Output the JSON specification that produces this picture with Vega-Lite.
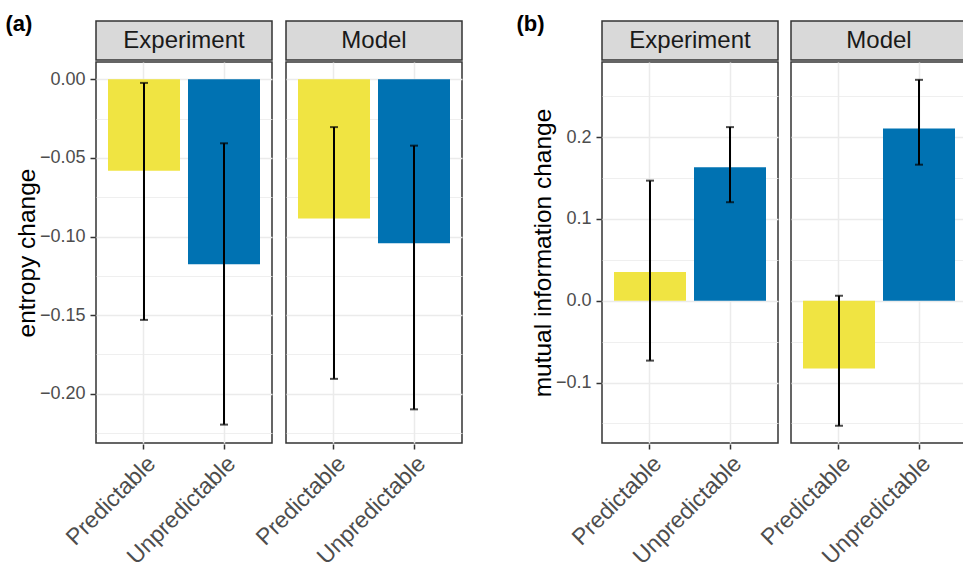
{
  "$schema": "https://vega.github.io/schema/vega-lite/v6.json",
  "background": "white",
  "padding": {"left": 5, "top": 13, "right": 0, "bottom": 0},
  "config": {
    "font": "Liberation Sans",
    "view": {"stroke": "#333333", "strokeWidth": 1.5},
    "axis": {"domain": false, "tickColor": "#333333", "tickSize": 5, "tickWidth": 1.5, "labelColor": "#4D4D4D", "titleColor": "#000000", "titleFontWeight": "normal", "gridColor": "#EBEBEB"},
    "title": {"fontSize": 22, "fontWeight": "bold", "color": "#000000", "anchor": "start", "offset": -16}
  },
  "datasets": {
    "d": [
      {"panel": "a", "source": "Experiment", "condition": "Predictable", "value": -0.0582, "lo": -0.153, "hi": -0.0023},
      {"panel": "a", "source": "Experiment", "condition": "Unpredictable", "value": -0.1177, "lo": -0.2196, "hi": -0.0407},
      {"panel": "a", "source": "Model", "condition": "Predictable", "value": -0.0886, "lo": -0.1905, "hi": -0.0304},
      {"panel": "a", "source": "Model", "condition": "Unpredictable", "value": -0.1042, "lo": -0.2099, "hi": -0.0422},
      {"panel": "b", "source": "Experiment", "condition": "Predictable", "value": 0.035, "lo": -0.0732, "hi": 0.1468},
      {"panel": "b", "source": "Experiment", "condition": "Unpredictable", "value": 0.163, "lo": 0.1204, "hi": 0.2122},
      {"panel": "b", "source": "Model", "condition": "Predictable", "value": -0.0829, "lo": -0.1528, "hi": 0.0061},
      {"panel": "b", "source": "Model", "condition": "Unpredictable", "value": 0.2106, "lo": 0.1663, "hi": 0.27}
    ]
  },
  "spacing": 53,
  "hconcat": [
    {
      "title": {"text": "(a)", "dx": -9},
      "spacing": 0,
      "vconcat": [
        {
          "data": {"name": "d"},
          "transform": [{"filter": "datum.panel == 'a' && datum.condition == 'Predictable'"}],
          "facet": {"column": {"field": "source", "type": "nominal", "header": {"title": null, "labels": false}}},
          "spacing": 12,
          "spec": {
            "width": 176, "height": 39,
            "view": {"fill": "#D9D9D9", "stroke": "#333333", "strokeWidth": 1.5},
            "mark": {"type": "text", "fontSize": 24, "color": "#1A1A1A", "baseline": "middle"},
            "encoding": {"text": {"field": "source", "type": "nominal"}}
          }
        },
        {
          "data": {"name": "d"},
          "transform": [{"filter": "datum.panel == 'a'"}],
          "facet": {"column": {"field": "source", "type": "nominal", "header": {"title": null, "labels": false}}},
          "spacing": 12,
          "spec": {
            "width": 176, "height": 381,
            "encoding": {
              "x": {"field": "condition", "type": "nominal", "title": null,
                "scale": {"paddingInner": 0.1, "paddingOuter": 0.15},
                "axis": {"labelAngle": -45, "labelFontSize": 23, "grid": true, "gridWidth": 1.5, "bandPosition": 0.5, "labelPadding": 3}}
            },
            "layer": [
              {
                "mark": {"type": "bar"},
                "encoding": {
                  "y": {"field": "value", "type": "quantitative", "title": "entropy change",
                    "scale": {"domain": [-0.2313, 0.011], "nice": false, "zero": false},
                    "axis": {
                      "values": [-0.225, -0.2, -0.175, -0.15, -0.125, -0.1, -0.075, -0.05, -0.025, 0],
                      "format": ".2f",
                      "labelExpr": "abs(datum.value/0.05 - round(datum.value/0.05)) < 0.001 ? datum.label : ''",
                      "labelFontSize": 18, "labelPadding": 5, "titleFontSize": 24.5, "titlePadding": 0,
                      "tickOpacity": {"condition": {"test": "abs(datum.value/0.05 - round(datum.value/0.05)) < 0.001", "value": 1}, "value": 0},
                      "gridWidth": {"condition": {"test": "abs(datum.value/0.05 - round(datum.value/0.05)) < 0.001", "value": 1.5}, "value": 0.8}
                    }},
                  "color": {"field": "condition", "type": "nominal", "legend": null,
                    "scale": {"domain": ["Predictable", "Unpredictable"], "range": ["#F0E442", "#0072B2"]}}
                }
              },
              {
                "mark": {"type": "rule", "color": "black", "strokeWidth": 2},
                "encoding": {"y": {"field": "lo", "type": "quantitative"}, "y2": {"field": "hi"}}
              },
              {
                "mark": {"type": "tick", "color": "black", "size": 8, "thickness": 2},
                "encoding": {"y": {"field": "lo", "type": "quantitative"}}
              },
              {
                "mark": {"type": "tick", "color": "black", "size": 8, "thickness": 2},
                "encoding": {"y": {"field": "hi", "type": "quantitative"}}
              }
            ]
          }
        }
      ]
    },
    {
      "title": {"text": "(b)", "dx": -14},
      "spacing": 0,
      "vconcat": [
        {
          "data": {"name": "d"},
          "transform": [{"filter": "datum.panel == 'b' && datum.condition == 'Predictable'"}],
          "facet": {"column": {"field": "source", "type": "nominal", "header": {"title": null, "labels": false}}},
          "spacing": 11,
          "spec": {
            "width": 176, "height": 39,
            "view": {"fill": "#D9D9D9", "stroke": "#333333", "strokeWidth": 1.5},
            "mark": {"type": "text", "fontSize": 24, "color": "#1A1A1A", "baseline": "middle"},
            "encoding": {"text": {"field": "source", "type": "nominal"}}
          }
        },
        {
          "data": {"name": "d"},
          "transform": [{"filter": "datum.panel == 'b'"}],
          "facet": {"column": {"field": "source", "type": "nominal", "header": {"title": null, "labels": false}}},
          "spacing": 11,
          "spec": {
            "width": 176, "height": 381,
            "encoding": {
              "x": {"field": "condition", "type": "nominal", "title": null,
                "scale": {"paddingInner": 0.1, "paddingOuter": 0.15},
                "axis": {"labelAngle": -45, "labelFontSize": 23, "grid": true, "gridWidth": 1.5, "bandPosition": 0.5, "labelPadding": 3}}
            },
            "layer": [
              {
                "mark": {"type": "bar"},
                "encoding": {
                  "y": {"field": "value", "type": "quantitative", "title": "mutual information change",
                    "scale": {"domain": [-0.1739, 0.2918], "nice": false, "zero": false},
                    "axis": {
                      "values": [-0.15, -0.1, -0.05, 0, 0.05, 0.1, 0.15, 0.2, 0.25],
                      "format": ".1f",
                      "labelExpr": "abs(datum.value/0.1 - round(datum.value/0.1)) < 0.001 ? datum.label : ''",
                      "labelFontSize": 18, "labelPadding": 5, "titleFontSize": 24.5, "titlePadding": 0,
                      "tickOpacity": {"condition": {"test": "abs(datum.value/0.1 - round(datum.value/0.1)) < 0.001", "value": 1}, "value": 0},
                      "gridWidth": {"condition": {"test": "abs(datum.value/0.1 - round(datum.value/0.1)) < 0.001", "value": 1.5}, "value": 0.8}
                    }},
                  "color": {"field": "condition", "type": "nominal", "legend": null,
                    "scale": {"domain": ["Predictable", "Unpredictable"], "range": ["#F0E442", "#0072B2"]}}
                }
              },
              {
                "mark": {"type": "rule", "color": "black", "strokeWidth": 2},
                "encoding": {"y": {"field": "lo", "type": "quantitative"}, "y2": {"field": "hi"}}
              },
              {
                "mark": {"type": "tick", "color": "black", "size": 8, "thickness": 2},
                "encoding": {"y": {"field": "lo", "type": "quantitative"}}
              },
              {
                "mark": {"type": "tick", "color": "black", "size": 8, "thickness": 2},
                "encoding": {"y": {"field": "hi", "type": "quantitative"}}
              }
            ]
          }
        }
      ]
    }
  ]
}
